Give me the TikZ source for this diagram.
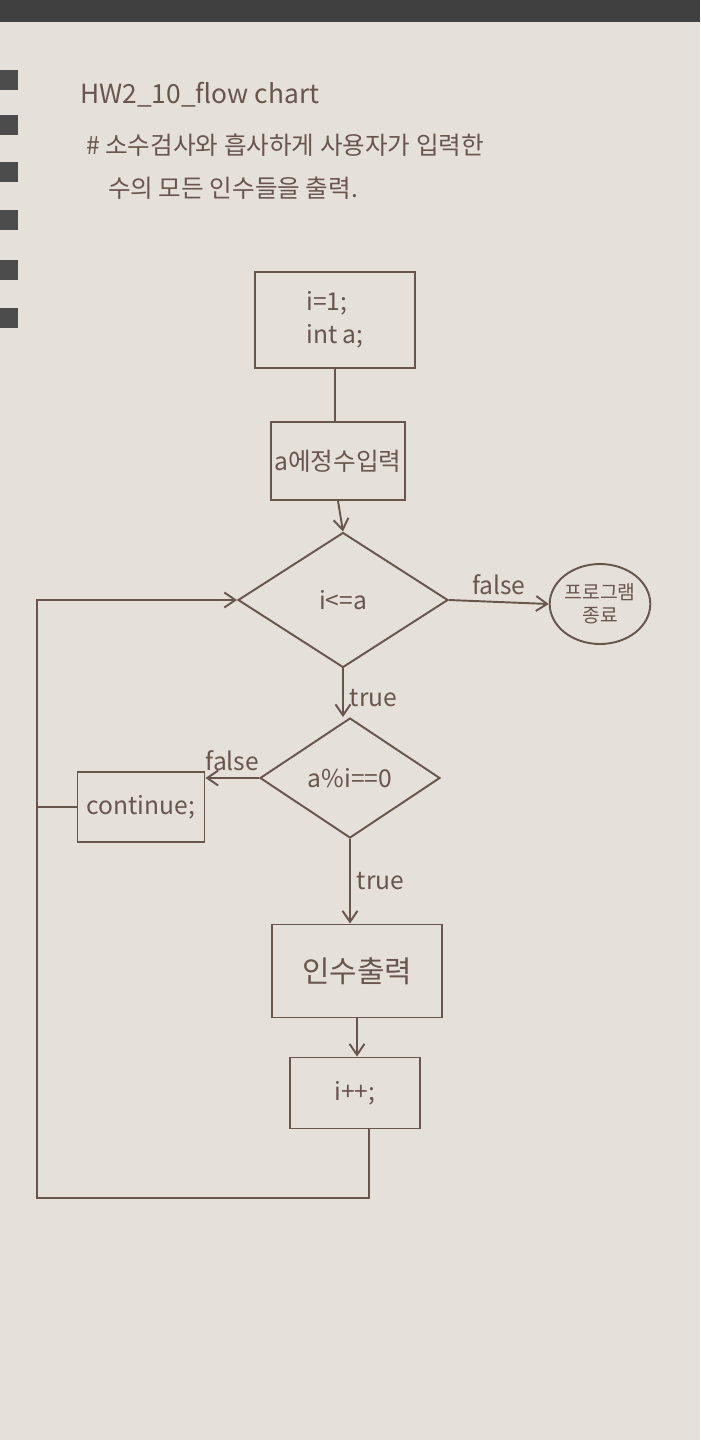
\documentclass[tikz,border=0pt]{standalone}
\usepackage{fontspec}
\newfontfamily\cjk{Noto Sans CJK KR}
\usepackage{tikz}
\usetikzlibrary{shapes.geometric,arrows.meta}
\definecolor{pencil}{HTML}{66564E}
\definecolor{paper}{HTML}{E6E0DB}
\tikzset{every edge/.style={draw, pencil, line width=1.1pt}}
\tikzset{box/.style={draw=pencil, line width=1.1pt, text=pencil, font=\cjk\fontsize{14}{19}\selectfont, inner sep=2pt}}
\tikzset{lbl/.style={text=pencil, font=\cjk\fontsize{14}{17}\selectfont}}

\begin{document}
\begin{tikzpicture}[x=0.02cm, y=-0.02cm, >={Straight Barb[length=2.2mm,width=3mm]}]
  \useasboundingbox (0,0) rectangle (700,1440);
  \fill[paper] (0,0) rectangle (700,1440);
  \fill[black!75] (0,0) rectangle (700,22);
  \foreach \y in {80,125,172,220,270,318}
    \fill[black!70] (0,\y-10) rectangle (18,\y+10);

  % heading
  \node[lbl, anchor=west, font=\cjk\fontsize{15}{18}\selectfont] at (74,95) (title) {HW2\_10\_flow chart};
  \node[lbl, anchor=west] at (80,145) (note1) {\# 소수검사와 흡사하게 사용자가 입력한};
  \node[lbl, anchor=west] at (102,188) (note2) {수의 모든 인수들을 출력.};

  \node[box, minimum width=3.2cm, minimum height=1.92cm, align=left] at (335,320) (init) {i=1;\\int a;};
  \node[box, minimum width=2.66cm, minimum height=1.56cm] at (338,461) (input) {a에정수입력};
  \node[box, diamond, minimum width=4.2cm, minimum height=2.7cm, inner sep=0pt] at (343,600) (check) {i<=a};
  \node[box, ellipse, minimum width=1.8cm, minimum height=1.6cm, align=center, inner sep=0pt,
        font=\cjk\fontsize{11}{13}\selectfont] at (600,604) (stop) {프로그램\\종료};
  \node[box, diamond, minimum width=3.6cm, minimum height=2.4cm, inner sep=0pt] at (350,778) (mod) {a\%i==0};
  \node[box, minimum width=2.54cm, minimum height=1.4cm] at (141,807) (cont) {continue;};
  \node[box, minimum width=3.4cm, minimum height=1.86cm, font=\cjk\fontsize{17}{20}\selectfont] at (357,971) (print) {인수출력};
  \node[box, minimum width=2.6cm, minimum height=1.42cm] at (355,1093) (incr) {i++;};

  \coordinate (c1) at (369,1198);
  \coordinate (c2) at (37,1198);

  \draw (init.south) edge (init.south |- input.north);
  \draw (input.south) edge[->] (check.north);
  \draw (check.east) edge[->] node[lbl, above] {false} (stop.west);
  \draw (check.south) edge[->] node[lbl, right, pos=0.6] {true} (check.south |- mod.north);
  \draw (mod.west) edge[->] node[lbl, above] {false} (mod.west -| cont.east);
  \draw (mod.south) edge[->] node[lbl, right] {true} (mod.south |- print.north);
  \draw (print.south) edge[->] (print.south |- incr.north);
  \draw[pencil, line width=1.1pt, ->] (incr.south -| c1) -- (c1) -- (c2) |- (check.west);
  \draw (cont.west) edge (cont.west -| c2);
\end{tikzpicture}
\end{document}
